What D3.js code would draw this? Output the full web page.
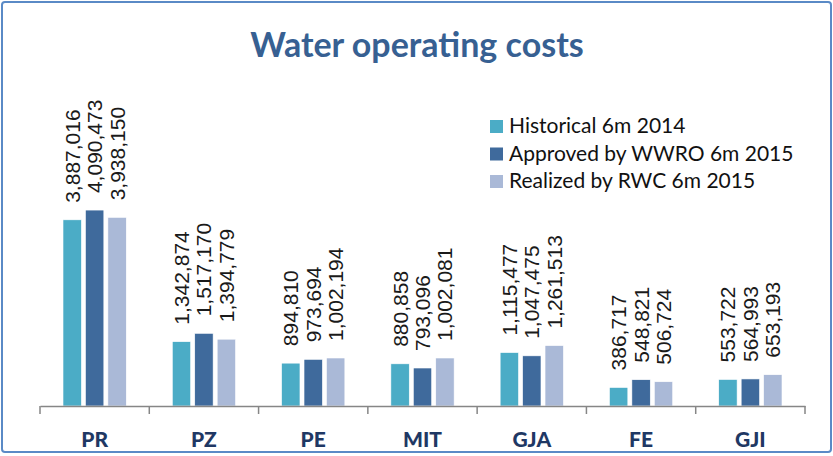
<!DOCTYPE html>
<html>
<head>
<meta charset="utf-8">
<script src="https://cdn.jsdelivr.net/npm/d3@7"></script>
<style>
  body { margin: 0; background: #fff; }
</style>
</head>
<body>
<script>
// Water operating costs - grouped bars

var width = 833;
var height = 456;

var categories = ["PR", "PZ", "PE", "MIT", "GJA", "FE", "GJI"];
var seriesNames = ["Historical 6m 2014", "Approved by WWRO 6m 2015", "Realized by RWC 6m 2015"];
var historical = [3887016, 1342874, 894810, 880858, 1115477, 386717, 553722];
var approved = [4090473, 1517170, 973694, 793096, 1047475, 548821, 564993];
var realized = [3938150, 1394779, 1002194, 1002081, 1261513, 506724, 653193];
var colors = ["#4BACC6", "#3F6A9C", "#AAB9D7"];

var series = [historical, approved, realized];

var svg = d3.select("body")
  .append("svg")
  .attr("width", width)
  .attr("height", height);

// outer frame
svg.append("rect")
  .attr("x", 2)
  .attr("y", 2)
  .attr("width", width - 4)
  .attr("height", height - 6)
  .attr("rx", 3)
  .attr("fill", "#fff")
  .attr("stroke", "#5A8AC6")
  .attr("stroke-width", 2);

// title
svg.append("text")
  .attr("x", 417)
  .attr("y", 57)
  .attr("text-anchor", "middle")
  .attr("font-family", "Lato, 'Open Sans', sans-serif")
  .attr("font-weight", "bold")
  .attr("font-size", "34px")
  .attr("fill", "#376092")
  .text("Water operating costs");

var plotLeft = 40, plotRight = 805, baseY = 406;

var x0 = d3.scaleBand()
  .domain(categories)
  .range([plotLeft, plotRight]);

var x1 = d3.scaleBand()
  .domain(d3.range(series.length))
  .range([23, x0.bandwidth() - 23])
  .paddingInner(0.18);

var yScale = d3.scaleLinear()
  .domain([0, 5000000])
  .range([baseY, baseY - 239.5]);

// bars
var groups = svg.selectAll("g.cat")
  .data(categories)
  .enter()
  .append("g")
  .attr("class", "cat")
  .attr("transform", function(d) { return "translate(" + x0(d) + ",0)"; });

groups.selectAll("rect")
  .data(function(d, i) { return series.map(function(s, j) { return { s: j, v: s[i] }; }); })
  .enter()
  .append("rect")
  .attr("x", function(d) { return x1(d.s); })
  .attr("width", x1.bandwidth())
  .attr("y", function(d) { return yScale(d.v); })
  .attr("height", function(d) { return baseY - yScale(d.v); })
  .attr("fill", function(d) { return colors[d.s]; })
  .attr("stroke", "#fff")
  .attr("stroke-width", 0.6);

// value labels, rotated
var fmt = d3.format(",");
groups.selectAll("text.val")
  .data(function(d, i) { return series.map(function(s, j) { return { s: j, v: s[i] }; }); })
  .enter()
  .append("text")
  .attr("class", "val")
  .attr("transform", function(d) {
    var cx = x1(d.s) + x1.bandwidth() / 2 + 7.5;
    return "translate(" + cx + "," + (yScale(d.v) - 17) + ") rotate(-90)";
  })
  .attr("font-family", "'Liberation Sans', Arial, sans-serif")
  .attr("font-size", "21px")
  .attr("fill", "#1a1a1a")
  .text(function(d) { return fmt(d.v); });

// x axis
var xAxis = d3.axisBottom(x0).tickSize(0).tickFormat("");
var axisG = svg.append("g")
  .attr("transform", "translate(0," + baseY + ")")
  .call(xAxis);
axisG.select(".domain").attr("stroke", "#868686").attr("stroke-width", 1.5);

// boundary ticks
var boundaries = categories.map(function(c) { return x0(c); }).concat([plotRight]);
axisG.selectAll("line.bt")
  .data(boundaries)
  .enter()
  .append("line")
  .attr("class", "bt")
  .attr("x1", function(d) { return d; })
  .attr("x2", function(d) { return d; })
  .attr("y1", 0)
  .attr("y2", 8)
  .attr("stroke", "#868686")
  .attr("stroke-width", 1.5);

// category labels
svg.selectAll("text.cat")
  .data(categories)
  .enter()
  .append("text")
  .attr("class", "cat")
  .attr("x", function(d) { return x0(d) + x0.bandwidth() / 2; })
  .attr("y", 447)
  .attr("text-anchor", "middle")
  .attr("font-family", "Lato, 'Open Sans', sans-serif")
  .attr("font-weight", "900")
  .attr("font-size", "21px")
  .attr("fill", "#1F3864")
  .text(function(d) { return d; });

// legend
var legend = svg.selectAll("g.leg")
  .data(seriesNames)
  .enter()
  .append("g")
  .attr("class", "leg")
  .attr("transform", function(d, i) { return "translate(490," + (120 + i * 27.5) + ")"; });

legend.append("rect")
  .attr("width", 13)
  .attr("height", 13)
  .attr("fill", function(d, i) { return colors[i]; });

legend.append("text")
  .attr("x", 19)
  .attr("y", 13)
  .attr("font-family", "Lato, 'Open Sans', sans-serif")
  .attr("font-size", "21px")
  .attr("fill", "#111")
  .text(function(d) { return d; });
</script>
</body>
</html>
